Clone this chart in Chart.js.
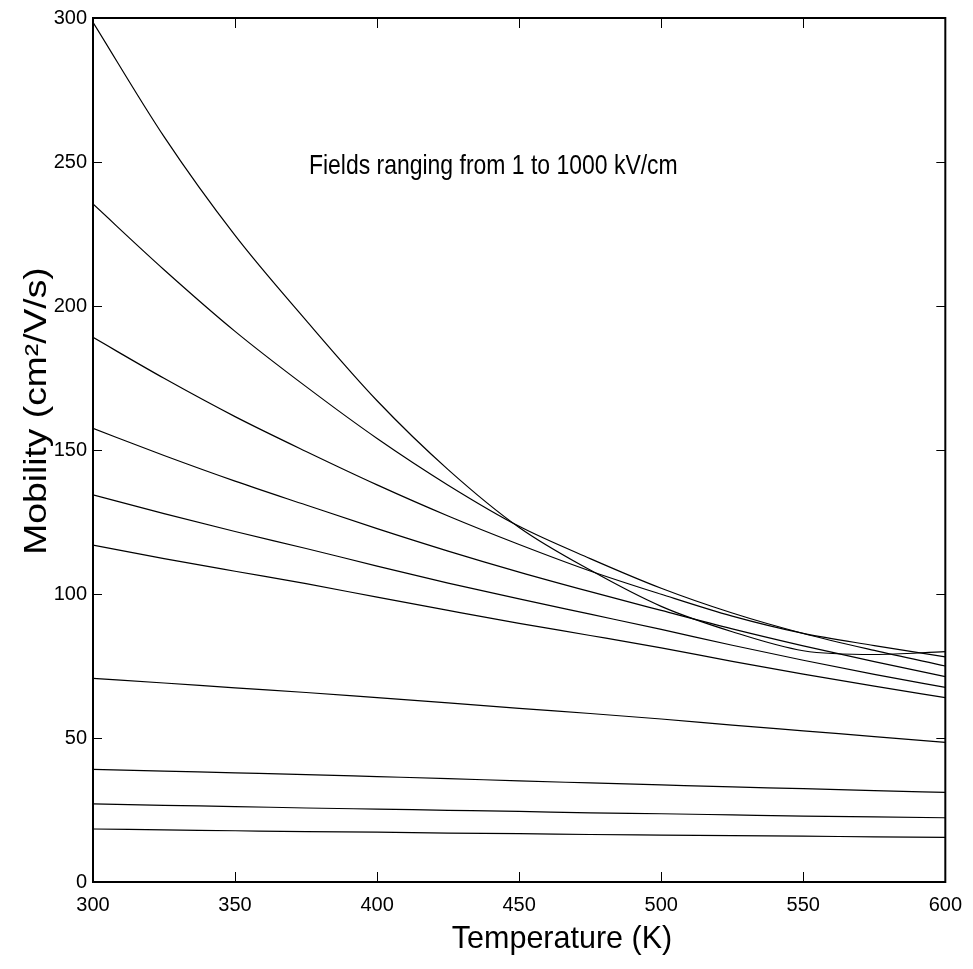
<!DOCTYPE html>
<html>
<head>
<meta charset="utf-8">
<script src="https://cdn.jsdelivr.net/npm/chart.js@4.4.0/dist/chart.umd.min.js"></script>
<style>
  html, body { margin: 0; padding: 0; background: #fff; }
  #wrap { width: 973px; height: 969px; }
</style>
</head>
<body>
<div id="wrap"><canvas id="mobChart" width="973" height="969"></canvas></div>
<script>
// temperature grid (K)
const temps = [300, 325, 350, 375, 400, 425, 450, 475, 500, 525, 550, 575, 600];

// mobility (cm2/V/s), one curve per field
const field1 = [298.5, 258.8, 224.5, 195.0, 167.1, 143.2, 123.1, 108.3, 95.7, 86.9, 80.3, 79.0, 80.0];
const field2 = [235.4, 212.6, 191.2, 172.0, 154.0, 137.8, 123.5, 112.3, 102.0, 93.4, 86.3, 80.4, 75.0];
const field3 = [189.1, 174.9, 161.6, 149.5, 137.9, 127.1, 117.2, 108.0, 99.9, 92.3, 86.3, 82.1, 78.2];
const field4 = [157.5, 148.1, 139.2, 130.9, 122.7, 114.9, 107.6, 100.8, 94.3, 87.9, 82.0, 76.5, 71.3];
const field5 = [134.4, 127.9, 121.7, 115.8, 109.7, 103.8, 98.3, 93.0, 87.7, 82.2, 77.0, 72.1, 67.6];
const field6 = [117.0, 112.3, 107.9, 103.6, 98.9, 94.3, 89.8, 85.6, 81.3, 76.6, 72.2, 68.0, 64.0];
const field7 = [70.7, 69.1, 67.4, 65.8, 64.0, 62.2, 60.3, 58.5, 56.6, 54.5, 52.5, 50.5, 48.5];
const field8 = [39.1, 38.5, 37.9, 37.3, 36.6, 35.9, 35.1, 34.4, 33.7, 33.0, 32.4, 31.7, 31.1];
const field9 = [27.1, 26.6, 26.2, 25.7, 25.3, 24.9, 24.5, 24.0, 23.7, 23.3, 22.9, 22.6, 22.3];
const field10 = [18.4, 18.1, 17.8, 17.5, 17.3, 17.0, 16.8, 16.5, 16.3, 16.1, 15.9, 15.7, 15.5];

const allFields = [field1, field2, field3, field4, field5, field6, field7, field8, field9, field10];

const xTicks = [300, 350, 400, 450, 500, 550, 600];
const yTicks = [0, 50, 100, 150, 200, 250, 300];

const xTitle = 'Temperature (K)';
const yTitle = 'Mobility (cm\u00B2/V/s)';
const note = 'Fields ranging from 1 to 1000 kV/cm';

const fontFamily = "'Liberation Sans', Arial, Helvetica, sans-serif";

// box, inward ticks, titles and the note
const framePlugin = {
    id: 'frame',
    afterDatasetsDraw(chart) {
        const ctx = chart.ctx;
        const a = chart.chartArea;
        const x = chart.scales.x;
        const y = chart.scales.y;
        ctx.save();
        ctx.strokeStyle = '#000';
        ctx.lineWidth = 1;
        ctx.beginPath();
        xTicks.forEach(function(v) {
            const px = Math.round(x.getPixelForValue(v)) + 0.5;
            ctx.moveTo(px, a.bottom); ctx.lineTo(px, a.bottom - 10);
            ctx.moveTo(px, a.top); ctx.lineTo(px, a.top + 10);
        });
        yTicks.forEach(function(v) {
            const py = Math.round(y.getPixelForValue(v)) + 0.5;
            ctx.moveTo(a.left, py); ctx.lineTo(a.left + 9, py);
            ctx.moveTo(a.right, py); ctx.lineTo(a.right - 9, py);
        });
        ctx.stroke();

        ctx.lineWidth = 2;
        ctx.strokeRect(a.left, a.top, a.right - a.left, a.bottom - a.top);

        ctx.fillStyle = '#000';
        ctx.textBaseline = 'alphabetic';

        // note inside the plot (the original font is a narrow one)
        ctx.save();
        ctx.font = '28px ' + fontFamily;
        ctx.textAlign = 'left';
        ctx.translate(x.getPixelForValue(376), y.getPixelForValue(245.8));
        ctx.scale(0.82, 1);
        ctx.fillText(note, 0, 0);
        ctx.restore();

        // x title
        ctx.font = '30.5px ' + fontFamily;
        ctx.textAlign = 'center';
        ctx.fillText(xTitle, a.left + 469, a.bottom + 66);

        // y title
        ctx.font = '31px ' + fontFamily;
        ctx.translate(a.left - 47, a.top + 393);
        ctx.rotate(-Math.PI / 2);
        ctx.scale(1.2, 1);
        ctx.fillText(yTitle, 0, 0);
        ctx.restore();
    }
};

const ctx = document.getElementById('mobChart').getContext('2d');

new Chart(ctx, {
    type: 'line',
    data: {
        datasets: allFields.map(function(vals, i) {
            return {
                label: 'Field ' + (i + 1),
                data: temps.map(function(t, j) { return { x: t, y: vals[j] }; }),
                borderColor: '#000',
                borderWidth: 1.2,
                pointRadius: 0,
                fill: false,
                cubicInterpolationMode: 'monotone'
            };
        })
    },
    options: {
        responsive: false,
        animation: false,
        layout: {
            padding: { left: 0, right: 26, top: 18, bottom: 0 }
        },
        plugins: {
            legend: { display: false },
            tooltip: { enabled: false }
        },
        scales: {
            x: {
                type: 'linear',
                min: 300,
                max: 600,
                afterBuildTicks: function(scale) {
                    scale.ticks = xTicks.map(function(v) { return { value: v }; });
                },
                afterFit: function(scale) { scale.height = 87; },
                grid: { display: false, drawTicks: false },
                border: { display: false },
                ticks: {
                    color: '#000',
                    padding: 11,
                    maxRotation: 0,
                    font: { family: fontFamily, size: 20 }
                }
            },
            y: {
                type: 'linear',
                min: 0,
                max: 300,
                afterBuildTicks: function(scale) {
                    scale.ticks = yTicks.map(function(v) { return { value: v }; });
                },
                afterFit: function(scale) { scale.width = 93; },
                grid: { display: false, drawTicks: false },
                border: { display: false },
                ticks: {
                    color: '#000',
                    padding: 6,
                    font: { family: fontFamily, size: 20 }
                }
            }
        }
    },
    plugins: [framePlugin]
});
</script>
</body>
</html>
